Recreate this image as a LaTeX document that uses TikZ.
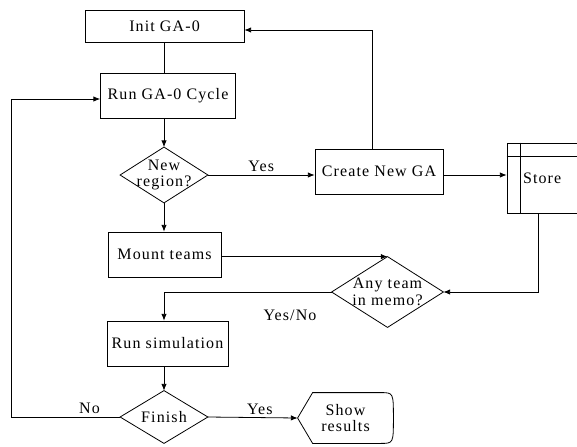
\documentclass[tikz,border=0pt]{standalone}
\usepackage{fontspec}
\setmainfont{Liberation Serif}[LetterSpace=7]
\usetikzlibrary{arrows.meta,calc}

\tikzset{
  box/.style={draw, inner sep=0pt, minimum height=33.75pt},
  decision/.style={inner sep=0pt, align=center},
  storebox/.style={draw, minimum width=61.5pt, minimum height=52.5pt, text width=37.5pt, inner xsep=12pt, inner ysep=0pt, align=left},
  flow/.style={-{Latex[length=5pt,width=4pt]}},
  txt/.style={inner sep=2pt},
}

\begin{document}
\begin{tikzpicture}[x=0.75pt,y=0.75pt,yscale=-1,xscale=1,line width=0.6pt,font=\fontsize{12}{12.5}\selectfont]
\useasboundingbox (0,0) rectangle (577,446);

% guide lines
\coordinate (spine) at (164,0);
\coordinate (up) at (372,0);
\coordinate (drop) at (538,0);
\coordinate (loop) at (11,0);
\coordinate (row0) at (0,30);
\coordinate (row1) at (0,99);
\coordinate (row2) at (0,175);

% Boxes
\node [box, minimum width=119.25pt, minimum height=24pt] (init) at (164.5,26) {Init GA-0};
\node [box, minimum width=101.25pt] (cycle) at (168,95.5) {Run GA-0 Cycle};
\node [box, minimum width=96pt] (create) at (379,171.5) {Create New GA};
\node [storebox] (store) at (548,178) {Store};
\node [box, minimum width=84.75pt] (mount) at (164.5,254.5) {Mount teams};
\node [box, minimum width=90.75pt] (runsim) at (167.5,343.5) {Run simulation};

% Decisions
\node [decision, minimum width=65.25pt, minimum height=41.25pt] (newreg) at (164,175) {New\\region?};
\node [decision, minimum width=83.25pt, minimum height=52.5pt] (anymemo) at (387.5,292) {Any team\\in memo?};
\node [decision, minimum width=65.25pt, minimum height=39pt] (finish) at (164,417) {Finish};
\foreach \d in {newreg,anymemo,finish}
  \draw (\d.west) -- (\d.north) -- (\d.east) -- (\d.south) -- cycle;

% Display
\node [decision, minimum width=71.25pt, minimum height=37.5pt] (showres) at (345.5,418) {Show\\results};
\draw (showres.west) -- ($(showres.north west)+(15,0)$) -- ($(showres.north east)+(-13,0)$)
  .. controls (showres.north east) .. (showres.east)
  .. controls (showres.south east) .. ($(showres.south east)+(-13,0)$)
  -- ($(showres.south west)+(15,0)$) -- cycle;

% Store marks
\draw ($(store.north west)+(14,0)$) -- ($(store.south west)+(14,0)$);
\draw ($(store.north west)+(0,14)$) -- ($(store.north east)+(0,14)$);

% Connectors
\draw (init.south -| spine) -- (cycle.north -| spine);
\draw [flow] (cycle.south -| spine) -- (newreg.north);
\draw [flow] (newreg.east) -- (newreg.east -| create.west) node [txt, midway, above] {Yes};
\draw [flow] (create.north -| up) |- (init.east |- row0);
\draw [flow] (create.east |- row2) -- (store.west |- row2);
\draw [flow] (newreg.south) -- (mount.north -| spine);
\draw [flow] (mount.east |- anymemo.north) -- (anymemo.north);
\draw [flow] (store.south -| drop) |- (anymemo.east);
\draw [flow] (anymemo.west) -| (runsim.north -| spine);
\node [txt] (yesno) at (290,315) {Yes/No};
\draw [flow] (runsim.south -| spine) -- (finish.north);
\draw [flow] (finish.west) -| (loop |- row1) node [txt, pos=0.14, above] {No} -- (cycle.west |- row1);
\draw [flow] (finish.east) -- (showres.west) node [txt, pos=0.58, above] {Yes};

\end{tikzpicture}
\end{document}
